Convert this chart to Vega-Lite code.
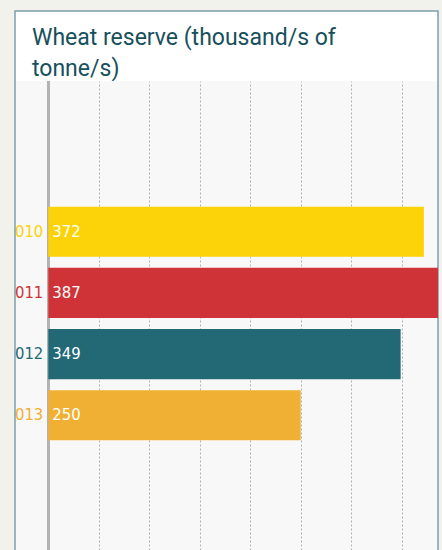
{
  "$schema": "https://vega.github.io/schema/vega-lite/v6.json",
  "background": "#f2f2ec",
  "padding": {"left": 14, "top": 10, "right": 4, "bottom": 0},
  "spacing": 0,
  "bounds": "flush",
  "data": {"values": [
    {"year": "2010", "value": 372},
    {"year": "2011", "value": 387},
    {"year": "2012", "value": 349},
    {"year": "2013", "value": 250}
  ]},
  "vconcat": [
    {
      "width": 423,
      "height": 70,
      "view": {"fill": "#ffffff", "stroke": "#7f9eae", "strokeWidth": 1.5, "strokeDash": [493, 423, 3000]},
      "title": {
        "text": ["Wheat reserve (thousand/s of", "tonne/s)"],
        "anchor": "start",
        "frame": "group",
        "orient": "top",
        "offset": -70,
        "dx": 17,
        "baseline": "top",
        "font": "Roboto",
        "fontSize": 23,
        "fontWeight": "normal",
        "color": "#17505c",
        "lineHeight": 31
      },
      "data": {"values": []},
      "mark": "rule",
      "encoding": {}
    },
    {
      "width": 423,
      "height": 485,
      "view": {"fill": "#f8f8f8", "stroke": "#7f9eae", "strokeWidth": 1.5, "strokeDash": [0, 423, 3000]},
      "layer": [
        {
          "mark": {"type": "rule", "color": "#b3b3b3", "strokeWidth": 2.5},
          "encoding": {
            "x": {"datum": 0, "type": "quantitative", "scale": {"domain": [-33, 386], "nice": false, "zero": false}}
          }
        },
        {
          "mark": {"type": "bar", "clip": true},
          "encoding": {
            "x": {"field": "value", "type": "quantitative",
              "scale": {"domain": [-33, 386], "nice": false, "zero": false},
              "axis": {"values": [50, 100, 150, 200, 250, 300, 350], "grid": true, "gridDash": [2, 2], "gridColor": "#b3b3b3", "gridWidth": 1, "labels": false, "ticks": false, "domain": false, "title": null}},
            "y": {"field": "year", "type": "nominal",
              "scale": {"domain": ["p1", "p2", "2010", "2011", "2012", "2013", "p3", "p4"], "paddingInner": 0.18, "paddingOuter": 0.056, "align": 0.5},
              "axis": null},
            "color": {"field": "year", "type": "nominal",
              "scale": {"domain": ["2010", "2011", "2012", "2013"], "range": ["#fcd208", "#cf3337", "#226975", "#f0b033"]},
              "legend": null}
          }
        },
        {
          "mark": {"type": "text", "align": "right", "baseline": "middle", "xOffset": -5, "fontSize": 16.5, "font": "DejaVu Sans Condensed", "clip": true},
          "encoding": {
            "x": {"datum": 0, "type": "quantitative", "scale": {"domain": [-33, 386], "nice": false, "zero": false}},
            "y": {"field": "year", "type": "nominal", "scale": {"domain": ["p1", "p2", "2010", "2011", "2012", "2013", "p3", "p4"], "paddingInner": 0.18, "paddingOuter": 0.056, "align": 0.5}, "axis": null},
            "text": {"field": "year"},
            "color": {"field": "year", "type": "nominal", "scale": {"domain": ["2010", "2011", "2012", "2013"], "range": ["#fcd208", "#cf3337", "#226975", "#f0b033"]}, "legend": null}
          }
        },
        {
          "mark": {"type": "text", "align": "left", "baseline": "middle", "xOffset": 4, "fontSize": 16.5, "font": "DejaVu Sans Condensed", "color": "#ffffff"},
          "encoding": {
            "x": {"datum": 0, "type": "quantitative", "scale": {"domain": [-33, 386], "nice": false, "zero": false}},
            "y": {"field": "year", "type": "nominal", "scale": {"domain": ["p1", "p2", "2010", "2011", "2012", "2013", "p3", "p4"], "paddingInner": 0.18, "paddingOuter": 0.056, "align": 0.5}, "axis": null},
            "text": {"field": "value"}
          }
        }
      ]
    }
  ]
}
